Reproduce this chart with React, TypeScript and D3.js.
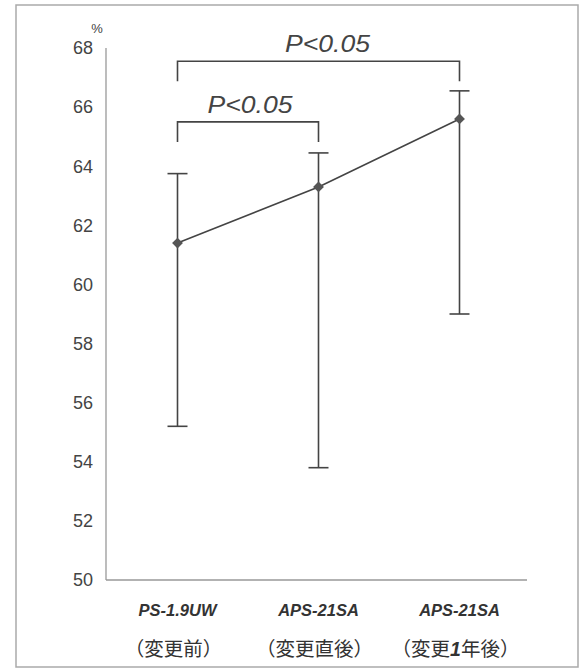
import React from 'react'
import * as d3 from 'd3'

// data
const models = ['PS-1.9UW', 'APS-21SA', 'APS-21SA']
const phases = [['（変更前）'], ['（変更直後）'], ['（変更', '1', '年後）']]
const means = [61.4, 63.3, 65.6]
const upper = [63.75, 64.45, 66.55]
const lower = [55.2, 53.8, 59.0]
const yTicks = [50, 52, 54, 56, 58, 60, 62, 64, 66, 68]
const brackets = [
  { from: 0, to: 2, level: 67.55, label: 'P<0.05' },
  { from: 0, to: 1, level: 65.5, label: 'P<0.05' }
]

const W = 581
const H = 670
const font = '"Liberation Sans", Arial, sans-serif'
const jpFont = '"Noto Sans CJK JP", "Liberation Sans", sans-serif'

function App() {
  const y = d3.scaleLinear().domain([50, 68]).range([580, 48])
  const x = d3.scalePoint<number>().domain([0, 1, 2]).range([107, 530]).padding(0.5)
  const ids = [0, 1, 2]

  const line = d3.line<number>()
    .x(i => x(i)!)
    .y(i => y(means[i]))

  const diamond = d3.symbol().type(d3.symbolDiamond2).size(75)()

  return (
    <svg width={W} height={H} style={{ position: 'absolute', left: 0, top: 0 }}>
      <rect x={0} y={0} width={W} height={H} fill="#fff" />
      <rect x={16} y={5} width={562} height={662} fill="none" stroke="#aaa" strokeWidth={1.5} />

      {/* axes */}
      <line x1={106} x2={106} y1={y(68)} y2={y(50)} stroke="#999" strokeWidth={1.3} />
      <line x1={106} x2={527} y1={y(50)} y2={y(50)} stroke="#999" strokeWidth={1.3} />
      {yTicks.map(t => (
        <text key={t} x={93} y={y(t)} dy="0.35em" textAnchor="end"
          fontFamily={font} fontSize={18} fill="#444">{t}</text>
      ))}
      <text x={97} y={28} dy="0.35em" textAnchor="middle" fontFamily={font} fontSize={13} fill="#444">%</text>

      {/* error bars */}
      {ids.map(i => (
        <g key={i} stroke="#444" strokeWidth={1.6}>
          <line x1={x(i)} x2={x(i)} y1={y(upper[i])} y2={y(lower[i])} />
          <line x1={x(i)! - 10} x2={x(i)! + 10} y1={y(upper[i])} y2={y(upper[i])} />
          <line x1={x(i)! - 10} x2={x(i)! + 10} y1={y(lower[i])} y2={y(lower[i])} />
        </g>
      ))}

      <path d={line(ids) || ''} fill="none" stroke="#444" strokeWidth={1.6} />
      {ids.map(i => (
        <path key={i} d={diamond || ''} transform={`translate(${x(i)},${y(means[i])})`} fill="#555" />
      ))}

      {/* significance brackets */}
      {brackets.map((b, k) => {
        const x0 = x(b.from)!
        const x1 = x(b.to)!
        const yy = y(b.level)
        return (
          <g key={k}>
            <path d={`M${x0},${yy + 20}V${yy}H${x1}V${yy + 20}`} fill="none" stroke="#444" strokeWidth={1.6} />
            <text x={(x0 + x1) / 2 + (k === 0 ? 9 : 2)} y={yy - 9} textAnchor="middle" fontFamily={font}
              fontStyle="italic" fontSize={23} textLength={85} lengthAdjust="spacingAndGlyphs"
              fill="#444">{b.label}</text>
          </g>
        )
      })}

      {/* category labels */}
      {ids.map(i => (
        <g key={i}>
          <text x={x(i)} y={616} textAnchor="middle" fontFamily={font} fontWeight="bold"
            fontStyle="italic" fontSize={16.5} fill="#333">{models[i]}</text>
          <text x={x(i)! - 4} y={656} textAnchor="middle" fontFamily={jpFont} fontSize={19.5} fill="#333">
            {phases[i].map((s, j) => (
              <tspan key={j} fontFamily={s === '1' ? font : jpFont}
                fontWeight={s === '1' ? 'bold' : 'normal'}
                fontStyle={s === '1' ? 'italic' : 'normal'}>{s}</tspan>
            ))}
          </text>
        </g>
      ))}
    </svg>
  )
}

export default App
